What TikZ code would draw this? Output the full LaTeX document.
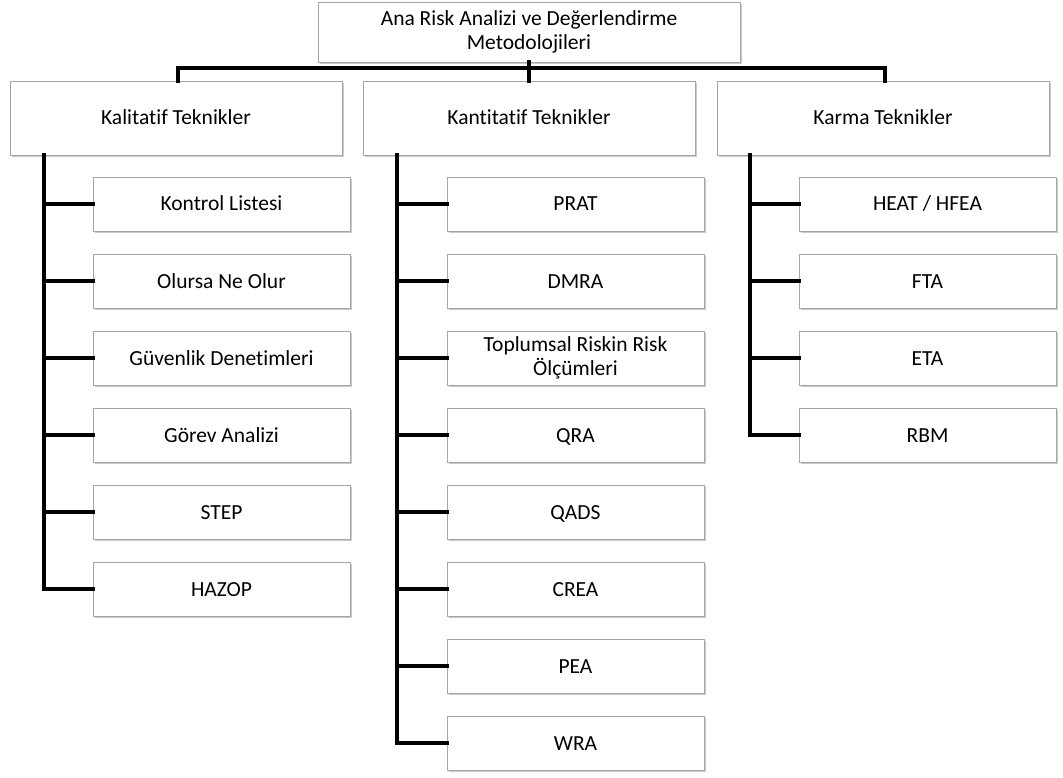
\documentclass[tikz,border=0pt]{standalone}
\usepackage{fontspec}
\setmainfont{Carlito}[Ligatures={NoCommon}]
\usetikzlibrary{shadows}
\begin{document}
\begin{tikzpicture}[x=1pt,y=-1pt,
  box/.style={draw=black!35, line width=0.8pt, fill=white, rectangle, align=center,
    font=\fontsize{21.5}{23.5}\selectfont, inner sep=0pt,
    drop shadow={shadow xshift=1.5pt, shadow yshift=-2pt, opacity=0.35, fill=black!60}},
  oneline/.style={text height=17pt, text depth=3pt},
  twoline/.style={text height={}, text depth={}},
  topbox/.style={box, minimum width=422pt, minimum height=60pt},
  catbox/.style={box, oneline, minimum width=332pt, minimum height=74pt},
  leaf/.style={box, oneline, minimum width=257pt, minimum height=54pt},
  conn/.style={line width=4pt, line cap=rect}]
\useasboundingbox (0,0) rectangle (1063,778);
\coordinate (busL) at (178,68);
\coordinate (busR) at (885,68);
\node[topbox] (top) at (529,32) {Ana Risk Analizi ve Değerlendirme\\Metodolojileri};
\node[catbox] (c1) at (176,118) {Kalitatif Teknikler};
\node[catbox] (c2) at (529,118) {Kantitatif Teknikler};
\node[catbox] (c3) at (883,118) {Karma Teknikler};
% leaves
\foreach \name/\txt [count=\i] in {a1/Kontrol Listesi, a2/Olursa Ne Olur, a3/Güvenlik Denetimleri, a4/Görev Analizi, a5/STEP, a6/HAZOP}
  \node[leaf] (\name) at (221.5,{204+77*(\i-1)}) {\txt};
\foreach \name/\txt [count=\i] in {b1/PRAT, b2/DMRA, b4/QRA, b5/QADS, b6/CREA, b7/PEA, b8/WRA}
  \node[leaf] (\name) at (575.5,{204+77*(\i-1+(\i>2))}) {\txt};
\node[leaf, twoline] (b3) at (575.5,358) {Toplumsal Riskin Risk\\Ölçümleri};
\foreach \name/\txt [count=\i] in {k1/{HEAT / HFEA}, k2/FTA, k3/ETA, k4/RBM}
  \node[leaf] (\name) at (927.5,{204+77*(\i-1)}) {\txt};
% bus
\draw[conn] (busL |- c1.north) -- (busL) -- (busR) -- (busR |- c3.north);
\draw[conn] (top.south) -- (c2.north);
% trunks
\coordinate (t1) at (44,155);
\coordinate (t2) at (397,155);
\coordinate (t3) at (750,155);
\draw[conn] (t1) -- (t1 |- a6.west) -- (a6.west);
\foreach \n in {a1,a2,a3,a4,a5} \draw[conn] (t1 |- \n.west) -- (\n.west);
\draw[conn] (t2) -- (t2 |- b8.west) -- (b8.west);
\foreach \n in {b1,b2,b3,b4,b5,b6,b7} \draw[conn] (t2 |- \n.west) -- (\n.west);
\draw[conn] (t3) -- (t3 |- k4.west) -- (k4.west);
\foreach \n in {k1,k2,k3} \draw[conn] (t3 |- \n.west) -- (\n.west);
\end{tikzpicture}
\end{document}
